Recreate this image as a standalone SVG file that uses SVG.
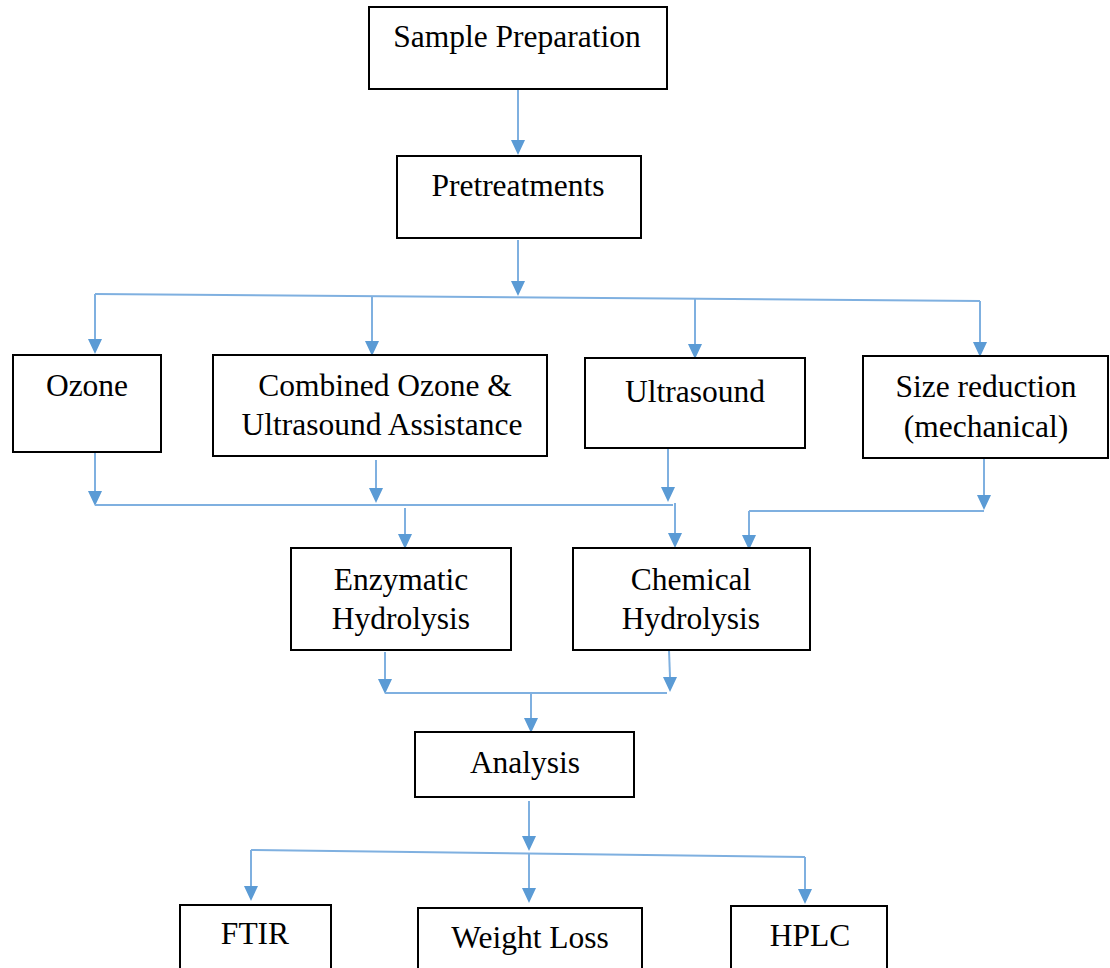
<svg xmlns="http://www.w3.org/2000/svg" width="1110" height="968" viewBox="0 0 1110 968">
<defs>
<style>
.box{fill:#fff;stroke:#000;stroke-width:2}
.t{font-family:"Liberation Serif","Times New Roman",serif;font-size:31.5px;fill:#000;text-anchor:middle}
.c{stroke:#7FB0E0;stroke-width:2;fill:none}
.h{fill:#5B9BD5}
</style>
</defs>
<rect width="1110" height="968" fill="#fff"/>
<g id="connectors">
<line class="c" x1="518" y1="89" x2="518" y2="140"/>
<path class="h" d="M511,140 L525,140 L518,155 Z"/>
<line class="c" x1="518" y1="240" x2="518" y2="281"/>
<path class="h" d="M511,281 L525,281 L518,296 Z"/>
<line class="c" x1="95" y1="294" x2="980" y2="301"/>
<line class="c" x1="95" y1="294" x2="95" y2="339"/>
<path class="h" d="M88,339 L102,339 L95,354 Z"/>
<line class="c" x1="372" y1="297" x2="372" y2="341"/>
<path class="h" d="M365,341 L379,341 L372,356 Z"/>
<line class="c" x1="695" y1="299" x2="695" y2="344"/>
<path class="h" d="M688,344 L702,344 L695,359 Z"/>
<line class="c" x1="980" y1="301" x2="980" y2="342"/>
<path class="h" d="M973,342 L987,342 L980,357 Z"/>
<line class="c" x1="95" y1="453" x2="95" y2="491"/>
<path class="h" d="M88,491 L102,491 L95,506 Z"/>
<line class="c" x1="376" y1="460" x2="376" y2="488"/>
<path class="h" d="M369,488 L383,488 L376,503 Z"/>
<line class="c" x1="668" y1="449" x2="668" y2="487"/>
<path class="h" d="M661,487 L675,487 L668,502 Z"/>
<line class="c" x1="95" y1="505" x2="673" y2="505"/>
<line class="c" x1="405" y1="508" x2="405" y2="534"/>
<path class="h" d="M398,534 L412,534 L405,549 Z"/>
<line class="c" x1="675" y1="503" x2="675" y2="533"/>
<path class="h" d="M668,533 L682,533 L675,548 Z"/>
<line class="c" x1="984" y1="459" x2="984" y2="495"/>
<path class="h" d="M977,495 L991,495 L984,510 Z"/>
<line class="c" x1="749" y1="511" x2="984" y2="511"/>
<line class="c" x1="749" y1="511" x2="749" y2="535"/>
<path class="h" d="M742,535 L756,535 L749,550 Z"/>
<line class="c" x1="385" y1="652" x2="385" y2="679"/>
<path class="h" d="M378,679 L392,679 L385,694 Z"/>
<line class="c" x1="669" y1="650" x2="670" y2="677"/>
<path class="h" d="M663,677 L677,677 L670,692 Z"/>
<line class="c" x1="385" y1="693" x2="667" y2="693"/>
<line class="c" x1="531" y1="692" x2="531" y2="718"/>
<path class="h" d="M524,718 L538,718 L531,733 Z"/>
<line class="c" x1="529" y1="801" x2="529" y2="836"/>
<path class="h" d="M522,836 L536,836 L529,851 Z"/>
<line class="c" x1="251" y1="850" x2="805" y2="857"/>
<line class="c" x1="251" y1="850" x2="251" y2="886"/>
<path class="h" d="M244,886 L258,886 L251,901 Z"/>
<line class="c" x1="529" y1="853" x2="529" y2="888"/>
<path class="h" d="M522,888 L536,888 L529,903 Z"/>
<line class="c" x1="805" y1="857" x2="805" y2="889"/>
<path class="h" d="M798,889 L812,889 L805,904 Z"/>
</g>
<g id="n-sample"><rect class="box" x="369" y="7" width="298" height="82"/><text class="t" x="517" y="47">Sample Preparation</text></g>
<g id="n-pretreat"><rect class="box" x="397" y="156" width="244" height="82"/><text class="t" x="518" y="196">Pretreatments</text></g>
<g id="n-ozone"><rect class="box" x="13" y="355" width="148" height="97"/><text class="t" x="87" y="396">Ozone</text></g>
<g id="n-combined"><rect class="box" x="213" y="355" width="334" height="101"/><text class="t" x="385" y="396">Combined Ozone &amp;</text><text class="t" x="382" y="435">Ultrasound Assistance</text></g>
<g id="n-ultra"><rect class="box" x="585" y="358" width="220" height="90"/><text class="t" x="695" y="402">Ultrasound</text></g>
<g id="n-size"><rect class="box" x="863" y="356" width="245" height="102"/><text class="t" x="986" y="397">Size reduction</text><text class="t" x="986" y="437">(mechanical)</text></g>
<g id="n-enz"><rect class="box" x="291" y="548" width="220" height="102"/><text class="t" x="401" y="590">Enzymatic</text><text class="t" x="401" y="629">Hydrolysis</text></g>
<g id="n-chem"><rect class="box" x="573" y="548" width="237" height="102"/><text class="t" x="691" y="590">Chemical</text><text class="t" x="691" y="629">Hydrolysis</text></g>
<g id="n-analysis"><rect class="box" x="415" y="732" width="219" height="65"/><text class="t" x="525" y="773">Analysis</text></g>
<g id="n-ftir"><rect class="box" x="180" y="905" width="151" height="70"/><text class="t" x="255" y="944">FTIR</text></g>
<g id="n-wl"><rect class="box" x="418" y="908" width="224" height="70"/><text class="t" x="530" y="948">Weight Loss</text></g>
<g id="n-hplc"><rect class="box" x="731" y="906" width="156" height="70"/><text class="t" x="810" y="946">HPLC</text></g>
</svg>
